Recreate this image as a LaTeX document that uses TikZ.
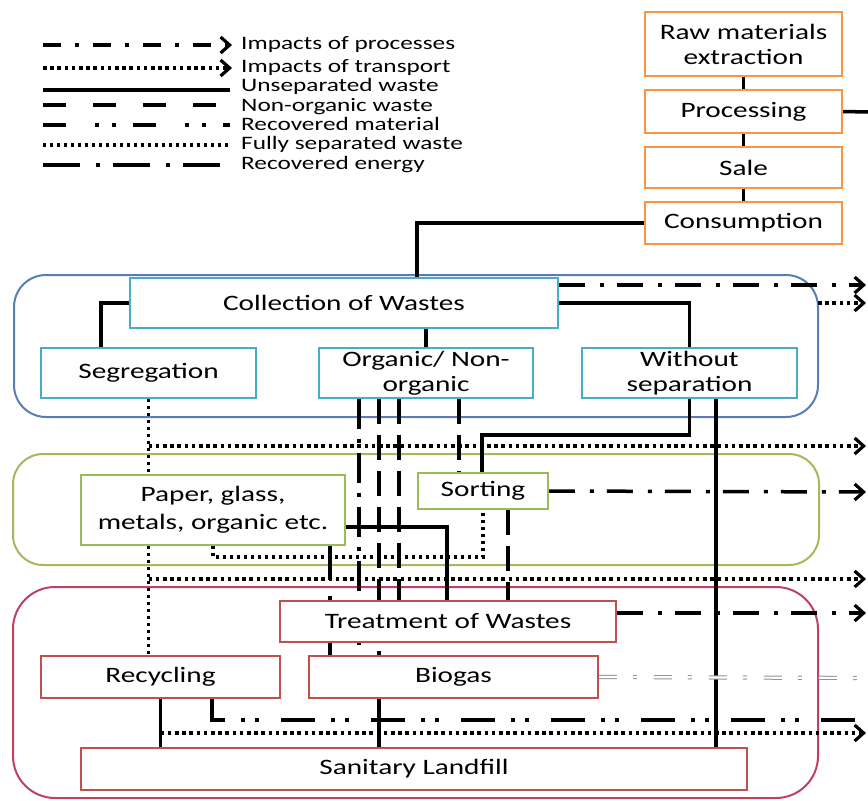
\documentclass[tikz,border=0pt]{standalone}
\usepackage{fontspec}
\setmainfont[FakeStretch=1.33]{Carlito}
\usetikzlibrary{arrows.meta}
\pgfdeclarelayer{regions}
\pgfdeclarelayer{links}
\pgfsetlayers{regions,links,main}

\definecolor{lcaorange}{HTML}{F79646}
\definecolor{lcateal}{HTML}{4BACC6}
\definecolor{lcaolive}{HTML}{9BBB59}
\definecolor{lcared}{HTML}{C0504D}
\definecolor{lcablue}{HTML}{5A7DB5}
\definecolor{lcamoss}{HTML}{A5B85C}
\definecolor{lcacrimson}{HTML}{C04060}

\newcommand\bxfont{\fontsize{22}{25}\selectfont}
\newcommand\lgfont{\fontsize{19}{20}\selectfont}

\tikzset{
  stagebox/.style={draw, line width=1.8pt, fill=white, inner sep=2pt, align=center, font=\bxfont},
  obox/.style={stagebox, draw=lcaorange},
  tbox/.style={stagebox, draw=lcateal},
  gbox/.style={stagebox, draw=lcaolive},
  rbox/.style={stagebox, draw=lcared},
  region/.style={line width=2pt, rounded corners=32pt},
  legtext/.style={anchor=base west, inner sep=0pt, font=\lgfont},
  arr/.style={-{Straight Barb[length=9pt,width=16pt,line width=3.2pt]}},
  procs/.style={line width=3.5pt, dash pattern=on 26pt off 15pt on 4pt off 13pt},
  transp/.style={line width=3.5pt, dash pattern=on 3.6pt off 3.6pt},
  unsep/.style={line width=3.5pt},
  nonorg/.style={line width=3.5pt, dash pattern=on 25pt off 11pt},
  recmat/.style={line width=3.5pt, dash pattern=on 34pt off 16pt on 4pt off 10pt on 4pt off 22pt},
  fullsep/.style={line width=3.5pt, dash pattern=on 3.4pt off 3.6pt},
  recen/.style={line width=3.5pt, dash pattern=on 30pt off 10pt on 4pt off 10pt},
  gasline/.style={draw=gray!85, line width=1pt, double=white, double distance=2.2pt,
                  dash pattern=on 18pt off 16pt on 4pt off 17pt},
}

\begin{document}
\begin{tikzpicture}[x=1pt,y=-1pt]
\useasboundingbox (0,0) rectangle (868,801);

% ---------- life-cycle chain ----------
\node[obox, minimum width=197pt, minimum height=64pt] (raw)  at (743.5,44)    {Raw materials\\extraction};
\node[obox, minimum width=197pt, minimum height=43pt] (proc) at (743.5,111.5) {Processing};
\node[obox, minimum width=197pt, minimum height=41pt] (sale) at (743.5,167.5) {Sale};
\node[obox, minimum width=197pt, minimum height=42pt] (cons) at (743.5,223)   {Consumption};

% ---------- collection stage ----------
\node[tbox, minimum width=428pt, minimum height=50pt] (coll) at (344,303)   {Collection of Wastes};
\node[tbox, minimum width=215pt, minimum height=50pt] (seg)  at (148.5,373) {Segregation};
\node[tbox, minimum width=214pt, minimum height=50pt] (org)  at (426,373)   {Organic/ Non-\\organic};
\node[tbox, minimum width=215pt, minimum height=50pt] (wsep) at (689.5,373) {Without\\separation};

% ---------- sorting stage ----------
\node[gbox, minimum width=264pt, minimum height=70pt, font=\fontsize{22}{28}\selectfont] (paper) at (213,510) {Paper, glass,\\metals, organic etc.};
\node[gbox, minimum width=130pt, minimum height=36pt] (sort) at (483,491) {Sorting};

% ---------- treatment and disposal ----------
\node[rbox, minimum width=336pt, minimum height=41pt] (treat)  at (448,621.5) {Treatment of Wastes};
\node[rbox, minimum width=239pt, minimum height=42pt] (recyc)  at (160.5,677) {Recycling};
\node[rbox, minimum width=289pt, minimum height=42pt] (biogas) at (453.5,677) {Biogas};
\node[rbox, minimum width=666pt, minimum height=42pt] (fill)   at (414,769)   {Sanitary Landfill};

% ---------- legend ----------
\node[legtext] (lg1) at (241,49)    {Impacts of processes};
\node[legtext] (lg2) at (241,72)    {Impacts of transport};
\node[legtext] (lg3) at (241,91.5)  {Unseparated waste};
\node[legtext] (lg4) at (241,111)   {Non-organic waste};
\node[legtext] (lg5) at (241,130.5) {Recovered material};
\node[legtext] (lg6) at (241,149.5) {Fully separated waste};
\node[legtext] (lg7) at (241,169.5) {Recovered energy};

\draw[procs, dash pattern=on 18pt off 14pt on 4pt off 14pt, arr] (43,45) -- (232,45);
\draw[transp, arr] (43,68) -- (232,68);
\draw[unsep] (43,90) -- (230,90);
\draw[nonorg, dash pattern=on 23pt off 27pt] (43,105) -- (230,105);
\draw[recmat, dash pattern=on 23pt off 29pt on 4pt off 13pt on 4pt off 17pt] (43,125) -- (230,125);
\draw[fullsep] (43,145) -- (230,145);
\draw[recen, dash pattern=on 37pt off 16pt on 4pt off 13pt] (43,165) -- (230,165);

% ---------- stage regions ----------
\begin{pgfonlayer}{regions}
  \draw[region, draw=lcablue]    (14,275) rectangle (818,417);
  \draw[region, draw=lcamoss, rounded corners=30pt] (13,454) rectangle (819,565);
  \draw[region, draw=lcacrimson, rounded corners=42pt] (13,587) rectangle (818,798);
\end{pgfonlayer}

% free ends at the right margin
\coordinate (eProc)  at (868,112);
\coordinate (eColl)  at (866,285);
\coordinate (eCollT) at (866,303);
\coordinate (eT1)    at (866,446);
\coordinate (eSort)  at (866,492);
\coordinate (eT2)    at (866,579);
\coordinate (eTreat) at (866,613);
\coordinate (eGas)   at (868,678);
\coordinate (eMat)   at (868,720);
\coordinate (eT3)    at (866,733);

\begin{pgfonlayer}{links}
  % life-cycle chain
  \draw[unsep] (raw) -- (proc);
  \draw[unsep] (proc) -- (sale);
  \draw[unsep] (sale) -- (cons);
  \draw[unsep] (proc.east) -- (eProc);
  \draw[unsep] (cons.west) -| (coll.north -| 417,0);

  % collection
  \draw[unsep] (coll.west) -| (seg.north -| 101,0);
  \draw[unsep] (org.north |- coll.south) -- (org.north);
  \draw[unsep] (coll.east) -| (wsep.north);
  \draw[procs, arr] (coll.east |- eColl) -- (eColl);
  \draw[transp, arr] (818,303) -- (eCollT);

  % segregated stream
  \draw[fullsep] (seg.south) -- (recyc.north -| seg.south);
  \draw[transp, arr] (seg.south |- eT1) -- (eT1);
  \draw[transp, arr] (seg.south |- eT2) -- (eT2);

  % organic / non-organic streams
  \draw[recen]  (org.south -| 359,0) -- (biogas.north -| 359,0);
  \draw[nonorg] (org.south -| 379,0) -- (biogas.north -| 379,0);
  \draw[nonorg] (org.south -| 399,0) -- (treat.north -| 399,0);
  \draw[nonorg] (org.south -| 459,0) -- (sort.north -| 459,0);

  % unseparated streams
  \draw[unsep] (wsep.south) |- (482,435) -- (sort.north -| 482,0);
  \draw[unsep] (wsep.south -| 716,0) -- (fill.north -| 716,0);

  % sorted fractions
  \draw[recmat]  (paper.south -| 330,0) -- (biogas.north -| 330,0);
  \draw[unsep]   (paper.east |- 0,527) -| (treat.north -| 447,0);
  \draw[fullsep] (paper.south) |- (483,557) -- (sort.south);
  \draw[nonorg]  (sort.south -| 508,0) -- (treat.north -| 508,0);
  \draw[procs, arr] (sort.east) -- (eSort);

  % treatment and disposal
  \draw[procs, arr] (treat.east |- eTreat) -- (eTreat);
  \draw[gasline] (biogas.east) -- (eGas);
  \draw[recmat] (recyc.south -| 212,0) |- (eMat);
  \draw[unsep] (recyc.south) -- (fill.north -| recyc.south);
  \draw[unsep] (biogas.south -| 379,0) -- (fill.north -| 379,0);
  \draw[transp, arr] (recyc.south |- eT3) -- (eT3);
\end{pgfonlayer}
\end{tikzpicture}
\end{document}
